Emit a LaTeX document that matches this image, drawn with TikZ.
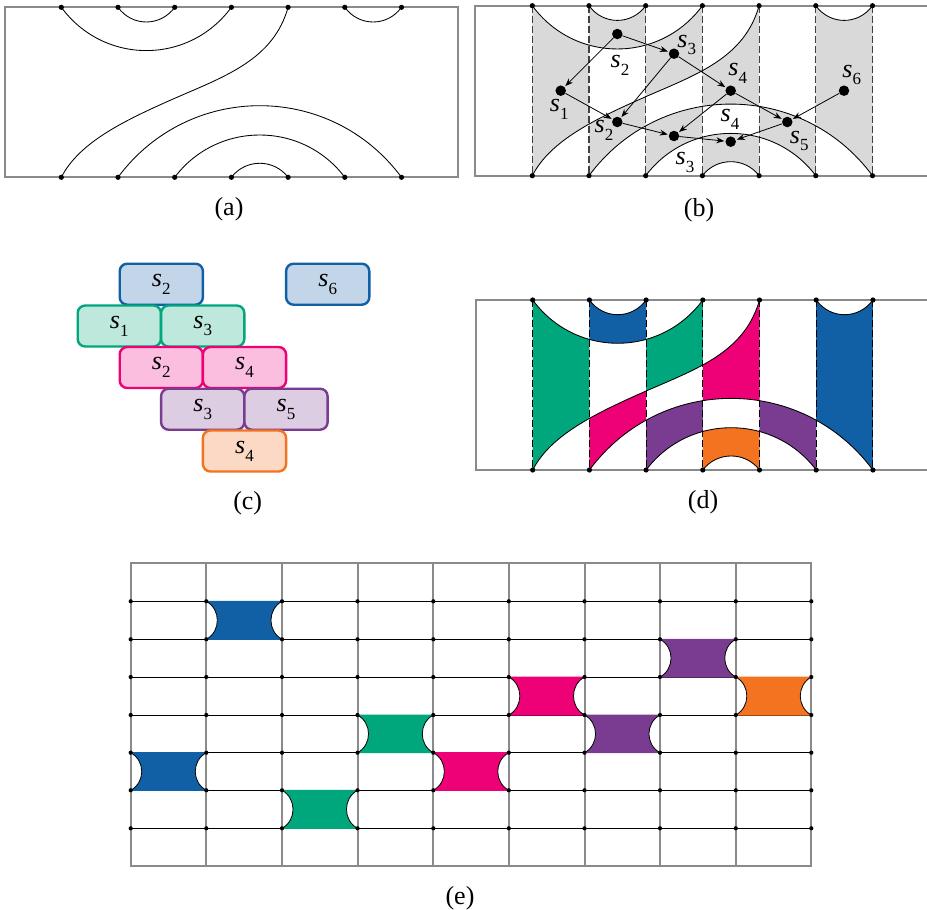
\documentclass[tikz,border=0pt]{standalone}
\usepackage{fontspec}
\setmainfont{Liberation Serif}
\usetikzlibrary{arrows.meta}
\definecolor{cblue}{HTML}{1160A6}
\definecolor{cgreen}{HTML}{00A67C}
\definecolor{cpink}{HTML}{EE0077}
\definecolor{cpurple}{HTML}{7A3C90}
\definecolor{corange}{HTML}{F47321}
\definecolor{lblue}{HTML}{C3D5E8}
\definecolor{lgreen}{HTML}{BEE8DC}
\definecolor{lpink}{HTML}{FBBEDF}
\definecolor{lpurple}{HTML}{DDCDE3}
\definecolor{lorange}{HTML}{FCD9C4}
\definecolor{framegray}{HTML}{8A8A8A}
\definecolor{regiongray}{HTML}{D9D9D9}
\newcommand\ssub[1]{\textit{s}\raisebox{-0.3em}{\fontsize{17}{17}\selectfont #1}}
% curves, written over the named points of the current panel \p
\def\Tzt{(\p t0) .. controls +(42.5,57.7) and +(-42.5,57.7) .. (\p t3)}
\def\Tot{(\p t1) .. controls +(14.2,19.6) and +(-14.2,19.6) .. (\p t2)}
\def\Tfs{(\p t5) .. controls +(14.2,19.6) and +(-14.2,19.6) .. (\p t6)}
\def\Bos{(\p b1) .. controls +(70.8,-95.5) and +(-70.8,-95.5) .. (\p b6)}
\def\Btf{(\p b2) .. controls +(42.5,-56.4) and +(-42.5,-56.4) .. (\p b5)}
\def\Btc{(\p b3) .. controls +(14.2,-18.7) and +(-14.2,-18.7) .. (\p b4)}
\def\Sc{(\p t4) .. controls +(-14.7,52) and +(51.7,-22.5) .. ++(-113.4,91) .. controls +(-51.3,22.6) and +(18,-35) .. (\p b0)}
\newcommand\region[4]{\begin{scope}\clip (\p #2) rectangle (\p #3);\fill[#1,even odd rule] #4;\end{scope}}
\newcommand\regions[5]{%
  \region{#2}{t0}{b1}{(\p t0) rectangle (\p b1) \Tzt -- cycle \Sc -- (\p b4) -- cycle}
  \region{#1}{t1}{b2}{\Tzt -- cycle \Tot -- cycle}
  \region{#2}{t2}{b3}{(\p t2) rectangle (\p b3) \Tzt -- cycle \Sc -- (\p b4) -- cycle}
  \region{#3}{t1}{b2}{\Sc -- (\p b4) -- cycle \Bos -- cycle}
  \region{#3}{t3}{b4}{\Sc -- (\p b4) -- cycle \Bos -- cycle}
  \region{#4}{t2}{b3}{\Bos -- cycle \Btf -- cycle}
  \region{#4}{t4}{b5}{\Bos -- cycle \Btf -- cycle}
  \region{#5}{t3}{b4}{\Btf -- cycle \Btc -- cycle}
  \region{#1}{t5}{b6}{(\p t5) rectangle (\p b6) \Tfs -- cycle \Bos -- cycle}}
\newcommand\panelpoints[3]{%
  \foreach \i in {0,...,6}{%
    \coordinate (#1t\i) at ({#2+56.7*\i},#3);
    \coordinate (#1b\i) at ({#2+56.7*\i},#3+170);}}
\newcommand\panelcurves{%
  \draw[curve] \Tzt; \draw[curve] \Tot; \draw[curve] \Tfs;
  \draw[curve] \Bos; \draw[curve] \Btf; \draw[curve] \Btc; \draw[curve] \Sc;}
\newcommand\paneldots{%
  \foreach \i in {0,...,6}{%
    \node[enddot] (\p dt\i) at (\p t\i) {};
    \node[enddot] (\p db\i) at (\p b\i) {};}}
\newcommand\paneldash[1]{%
  \foreach \i in {0,...,6}{\draw[dashline,#1] (\p t\i) -- (\p b\i);}}
\tikzset{
  frame/.style={draw=framegray,line width=1.9pt},
  curve/.style={draw=black,line width=0.85pt},
  dashline/.style={line width=1.1pt,dash pattern=on 7pt off 3pt},
  enddot/.style={circle,fill=black,inner sep=0pt,minimum size=5.2pt},
  griddot/.style={circle,fill=black,inner sep=0pt,minimum size=4.2pt},
  state/.style={circle,fill=black,inner sep=0pt,minimum size=10.5pt},
  arrowline/.style={draw=black,line width=0.8pt,-{Stealth[length=8pt,width=6pt]},shorten >=1pt},
  lbl/.style={inner sep=0pt,font=\fontsize{26}{26}\selectfont},
  brick/.style={rounded corners=7.5pt,line width=2.4pt,minimum width=83.2pt,minimum height=41pt,inner sep=0pt,font=\fontsize{26}{26}\selectfont},
  gridline/.style={draw=black,line width=0.9pt},
  capcurve/.style={draw=black,line width=0.8pt},
}
\begin{document}
\begin{tikzpicture}[x=1pt,y=-1pt]
\useasboundingbox (0,0) rectangle (927,910);
\fill[white] (0,0) rectangle (927,910);
% ---- (a)
\def\p{a}
\panelpoints{a}{61.3}{7.3}
\draw[frame] (4.7,7.3) rectangle (458,177.3);
\panelcurves
\paneldots
\node[lbl] (capa) at (229,209) {(a)};
% ---- (b)
\def\p{b}
\panelpoints{b}{532.3}{5.7}
\regions{regiongray}{regiongray}{regiongray}{regiongray}{regiongray}
\draw[frame] (928,5.7) -- (475.3,5.7) -- (475.3,175.7) -- (928,175.7);
\paneldash{draw=black!75}
\panelcurves
\paneldots
\node[state] (n1) at (617.3,34) {};
\node[state] (n2) at (674,53.7) {};
\node[state] (n3) at (730.7,90.7) {};
\node[state] (n4) at (560.7,90.7) {};
\node[state] (n5) at (617.3,122) {};
\node[state] (n6) at (674,136) {};
\node[state] (n7) at (730.7,141.7) {};
\node[state] (n8) at (787.3,122) {};
\node[state] (n9) at (844,90.7) {};
\foreach \u/\v in {n1/n4,n1/n2,n2/n3,n2/n5,n4/n5,n3/n6,n3/n8,n5/n6,n6/n7,n8/n7,n9/n8}
  \draw[arrowline] (\u) -- (\v);
\node[lbl] (b1) at (620,65) {\ssub{2}};
\node[lbl] (b2) at (686.7,45) {\ssub{3}};
\node[lbl] (b3) at (737.7,73) {\ssub{4}};
\node[lbl] (b4) at (851.7,75) {\ssub{6}};
\node[lbl] (b5) at (559.3,109) {\ssub{1}};
\node[lbl] (b6) at (604,130) {\ssub{2}};
\node[lbl] (b7) at (730,119) {\ssub{4}};
\node[lbl] (b8) at (799.3,141) {\ssub{5}};
\node[lbl] (b9) at (685,162.7) {\ssub{3}};
\node[lbl] (capb) at (699,210) {(b)};
% ---- (c)
\node[brick,draw=cblue,fill=lblue] (c1) at (161.3,284.2) {\ssub{2}};
\node[brick,draw=cblue,fill=lblue] (c2) at (327.7,284.2) {\ssub{6}};
\node[brick,draw=cgreen,fill=lgreen] (c3) at (119.3,326) {\ssub{1}};
\node[brick,draw=cgreen,fill=lgreen] (c4) at (202.7,326) {\ssub{3}};
\node[brick,draw=cpink,fill=lpink] (c5) at (161.3,367.5) {\ssub{2}};
\node[brick,draw=cpink,fill=lpink] (c6) at (244.5,367.5) {\ssub{4}};
\node[brick,draw=cpurple,fill=lpurple] (c7) at (202.7,409.2) {\ssub{3}};
\node[brick,draw=cpurple,fill=lpurple] (c8) at (286,409.2) {\ssub{5}};
\node[brick,draw=corange,fill=lorange] (c9) at (244.5,451) {\ssub{4}};
\node[lbl] (capc) at (247.7,503) {(c)};
% ---- (d)
\def\p{d}
\panelpoints{d}{532.7}{300}
\regions{cblue}{cgreen}{cpink}{cpurple}{corange}
\draw[frame] (928,300) -- (475.7,300) -- (475.7,470) -- (928,470);
\paneldash{draw=black}
\panelcurves
\paneldots
\node[lbl] (capd) at (703,502) {(d)};
% ---- (e)
\foreach \r/\y in {1/601.3,2/639.3,3/677,4/715,5/752.7,6/790.3,7/828.3}
  \draw[gridline] (130.7,\y) -- (811.3,\y);
\foreach \c/\x in {0/130.7,1/206.3,2/282,3/357.5,4/433.3,5/508.8,6/584.5,7/660,8/735.8,9/811.3}{
  \draw[framegray,line width=2pt] (\x,563.3) -- (\x,866);}
\draw[frame] (130.7,563.3) rectangle (811.3,866);
\foreach \col/\xa/\xb/\ya/\yb in {
  cblue/206.3/282/601.3/639.3,
  cblue/130.7/206.3/752.7/790.3,
  cgreen/357.5/433.3/715/752.7,
  cgreen/282/357.5/790.3/828.3,
  cpink/433.3/508.8/752.7/790.3,
  cpink/508.8/584.5/677/715,
  cpurple/584.5/660/715/752.7,
  cpurple/660/735.8/639.3/677,
  corange/735.8/811.3/677/715}{
  \fill[\col] (\xa,\ya-0.5) -- (\xb,\ya-0.5) -- (\xb,\ya)
    .. controls +(-14.7,8) and +(-14.7,-8) .. (\xb,\yb) -- (\xb,\yb+0.5) -- (\xa,\yb+0.5) -- (\xa,\yb)
    .. controls +(14.7,-8) and +(14.7,8) .. (\xa,\ya) -- cycle;
  \fill[white] (\xa,\ya+0.4) .. controls +(14.7,8) and +(14.7,-8) .. (\xa,\yb-0.4) -- cycle;
  \fill[white] (\xb,\ya+0.4) .. controls +(-14.7,8) and +(-14.7,-8) .. (\xb,\yb-0.4) -- cycle;
  \draw[framegray,line width=2pt] (\xa,\ya) -- (\xa,\yb);
  \draw[framegray,line width=2pt] (\xb,\ya) -- (\xb,\yb);
  \draw[capcurve] (\xa,\ya) .. controls +(14.7,8) and +(14.7,-8) .. (\xa,\yb);
  \draw[capcurve] (\xb,\ya) .. controls +(-14.7,8) and +(-14.7,-8) .. (\xb,\yb);
}
\foreach \r/\y in {1/601.3,2/639.3,3/677,4/715,5/752.7,6/790.3,7/828.3}
  \foreach \c/\x in {0/130.7,1/206.3,2/282,3/357.5,4/433.3,5/508.8,6/584.5,7/660,8/735.8,9/811.3}
    \node[griddot] (g\r-\c) at (\x,\y) {};
\node[lbl] (cape) at (460,898) {(e)};
\end{tikzpicture}
\end{document}
